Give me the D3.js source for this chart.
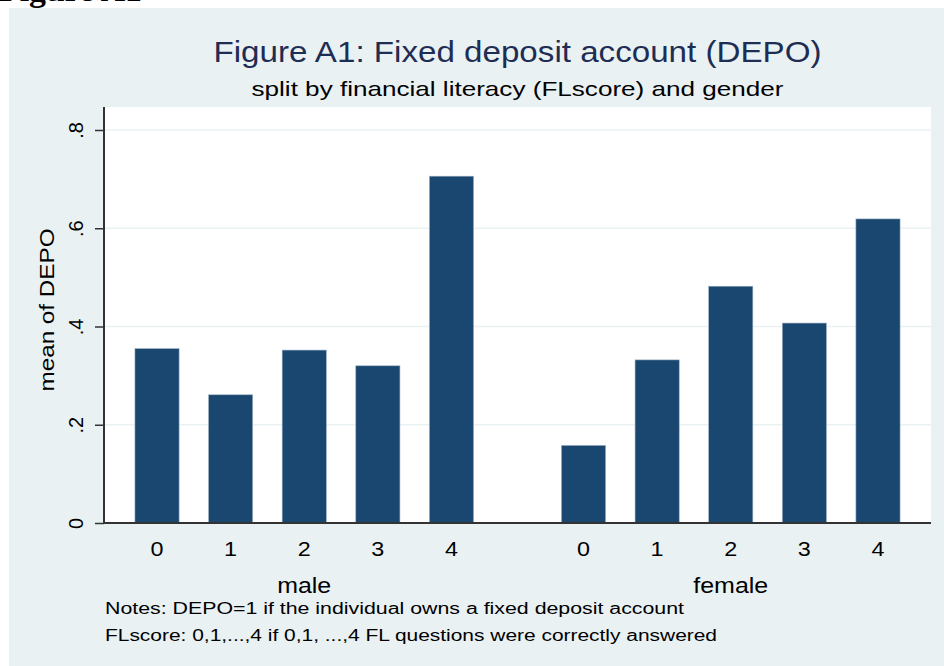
<!DOCTYPE html>
<html>
<head>
<meta charset="utf-8">
<script src="https://cdn.jsdelivr.net/npm/d3@7"></script>
<style>
  body { margin: 0; background: #ffffff; }
  text { font-family: "Liberation Sans", Arial, sans-serif; }
</style>
</head>
<body>
<div id="chart"></div>
<script>
// values
var genders = ["male", "female"];
var scores = ["0", "1", "2", "3", "4"];
var maleMeans = [0.355, 0.261, 0.352, 0.320, 0.706];
var femaleMeans = [0.158, 0.332, 0.482, 0.407, 0.619];
var yTicks = [0, 0.2, 0.4, 0.6, 0.8];
var yTickLabels = ["0", ".2", ".4", ".6", ".8"];

var width = 944, height = 666;
var margin = {top: 107, right: 13, bottom: 143, left: 104};

var rows = [];
scores.forEach(function(s, i) { rows.push({gender: "male", score: s, value: maleMeans[i]}); });
scores.forEach(function(s, i) { rows.push({gender: "female", score: s, value: femaleMeans[i]}); });

var svg = d3.select("#chart")
  .append("svg")
    .attr("width", width)
    .attr("height", height);

// graph region background
svg.append("rect")
  .attr("x", 9).attr("y", 8)
  .attr("width", width - 9).attr("height", height - 8)
  .attr("fill", "#eaf1f3");

// cut off heading from the page above
svg.append("text")
  .attr("x", -1).attr("y", 1)
  .style("font-family", "'Liberation Serif', 'Times New Roman', serif")
  .style("font-weight", "bold")
  .style("font-size", "32px")
  .attr("textLength", 143)
  .attr("lengthAdjust", "spacingAndGlyphs")
  .attr("fill", "#000")
  .text("Figure A1");

var x0 = d3.scaleBand()
  .domain(genders)
  .range([margin.left, width - margin.right])
  .paddingInner(0.137)
  .paddingOuter(0.038);

var x1 = d3.scaleBand()
  .domain(scores)
  .range([0, x0.bandwidth()])
  .paddingInner(0.4)
  .paddingOuter(0.2);

var y = d3.scaleLinear()
  .domain([0, 0.8])
  .range([523, 130]);

// plot area
svg.append("rect")
  .attr("x", margin.left).attr("y", margin.top)
  .attr("width", width - margin.right - margin.left)
  .attr("height", y(0) - margin.top)
  .attr("fill", "#ffffff");

// gridlines
svg.append("g")
  .selectAll("line")
  .data(yTicks.slice(1))
  .enter().append("line")
    .attr("x1", margin.left)
    .attr("x2", width - margin.right)
    .attr("y1", function(d) { return y(d); })
    .attr("y2", function(d) { return y(d); })
    .attr("stroke", "#eaf1f3")
    .attr("stroke-width", 1.5);

// bars
svg.append("g")
  .selectAll("rect")
  .data(rows)
  .enter().append("rect")
    .attr("x", function(d) { return x0(d.gender) + x1(d.score); })
    .attr("y", function(d) { return y(d.value); })
    .attr("width", x1.bandwidth())
    .attr("height", function(d) { return y(0) - y(d.value); })
    .attr("fill", "#1a476f")
    .attr("stroke", "#9fb2c6")
    .attr("stroke-width", 0.6);

// y axis
var yAxis = svg.append("g")
  .attr("transform", "translate(" + margin.left + ",0)")
  .call(d3.axisLeft(y).tickValues(yTicks).tickSize(9).tickFormat(function(d, i) { return yTickLabels[i]; }));
yAxis.select(".domain").attr("d", "M0," + margin.top + "V" + y(0)).attr("stroke", "#333").attr("stroke-width", 2);
yAxis.selectAll(".tick line").attr("stroke", "#333").attr("stroke-width", 1.5);
yAxis.selectAll(".tick text")
  .attr("x", 0).attr("dy", 0)
  .attr("transform", "translate(-21,0) rotate(-90)")
  .attr("text-anchor", "middle")
  .style("font-size", "20px")
  .attr("fill", "#000");

// x axis line
svg.append("line")
  .attr("x1", margin.left).attr("x2", width - margin.right)
  .attr("y1", y(0)).attr("y2", y(0))
  .attr("stroke", "#333").attr("stroke-width", 2);

// score labels
svg.append("g")
  .selectAll("text")
  .data(rows)
  .enter().append("text")
    .attr("x", function(d) { return x0(d.gender) + x1(d.score) + x1.bandwidth() / 2; })
    .attr("y", 556)
    .attr("text-anchor", "middle")
    .style("font-size", "21px")
    .attr("textLength", 13)
    .attr("lengthAdjust", "spacingAndGlyphs")
    .text(function(d) { return d.score; });

// gender labels
var genderWidths = {male: 54, female: 75};
svg.append("g")
  .selectAll("text")
  .data(genders)
  .enter().append("text")
    .attr("x", function(d) { return x0(d) + x0.bandwidth() / 2; })
    .attr("y", 593)
    .attr("text-anchor", "middle")
    .style("font-size", "22px")
    .attr("textLength", function(d) { return genderWidths[d]; })
    .attr("lengthAdjust", "spacingAndGlyphs")
    .text(function(d) { return d; });

// y label
svg.append("text")
  .attr("transform", "translate(54,310) rotate(-90)")
  .attr("text-anchor", "middle")
  .style("font-size", "21px")
  .attr("textLength", 163)
  .attr("lengthAdjust", "spacingAndGlyphs")
  .text("mean of DEPO");

// titles
svg.append("text")
  .attr("x", (margin.left + width - margin.right) / 2)
  .attr("y", 62)
  .attr("text-anchor", "middle")
  .style("font-size", "29px")
  .attr("textLength", 608)
  .attr("lengthAdjust", "spacingAndGlyphs")
  .attr("fill", "#1e2d53")
  .text("Figure A1: Fixed deposit account (DEPO)");

svg.append("text")
  .attr("x", (margin.left + width - margin.right) / 2)
  .attr("y", 96)
  .attr("text-anchor", "middle")
  .style("font-size", "21px")
  .attr("textLength", 532)
  .attr("lengthAdjust", "spacingAndGlyphs")
  .attr("fill", "#000")
  .text("split by financial literacy (FLscore) and gender");

// notes
svg.append("text")
  .attr("x", 105).attr("y", 614)
  .style("font-size", "16px")
  .attr("textLength", 579)
  .attr("lengthAdjust", "spacingAndGlyphs")
  .text("Notes: DEPO=1 if the individual owns a fixed deposit account");

svg.append("text")
  .attr("x", 105).attr("y", 641)
  .style("font-size", "16px")
  .attr("textLength", 612)
  .attr("lengthAdjust", "spacingAndGlyphs")
  .text("FLscore: 0,1,...,4 if 0,1, ...,4 FL questions were correctly answered");
</script>
</body>
</html>
